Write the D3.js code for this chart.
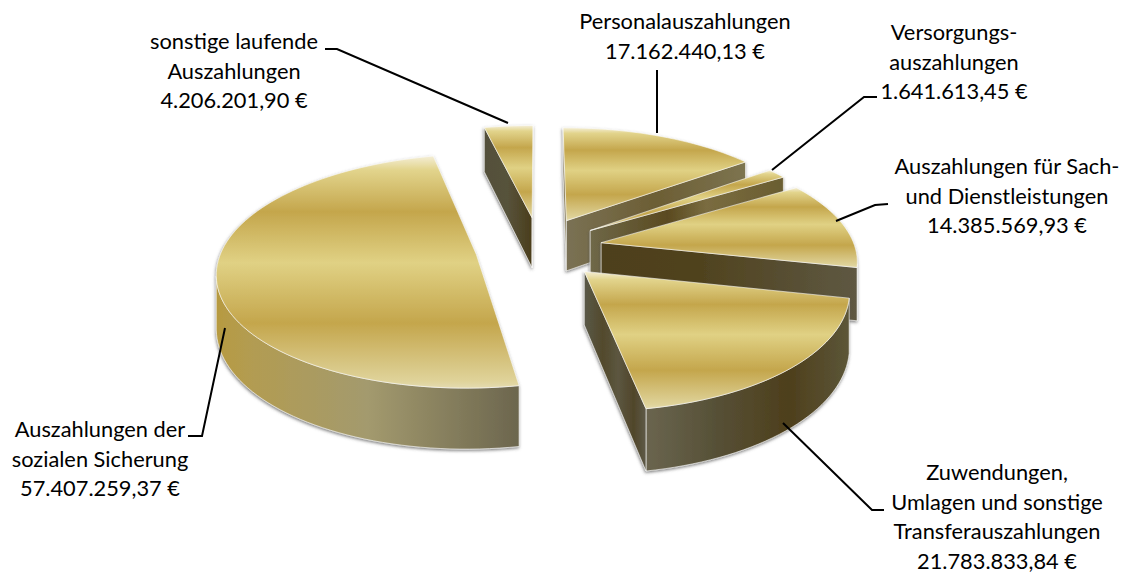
<!DOCTYPE html>
<html>
<head>
<meta charset="utf-8">
<script src="https://cdn.jsdelivr.net/npm/d3@7"></script>
<style>
  html, body { margin: 0; padding: 0; background: #fff; }
  text { font-family: Lato, "Open Sans", sans-serif; font-size: 21.8px; fill: #000; }
</style>
</head>
<body>
<div id="chart"></div>
<script>
// Chart data
const categories = [
  ['Personalauszahlungen'],
  ['Versorgungs-', 'auszahlungen'],
  ['Auszahlungen für Sach-', 'und Dienstleistungen'],
  ['Zuwendungen,', 'Umlagen und sonstige', 'Transferauszahlungen'],
  ['Auszahlungen der', 'sozialen Sicherung'],
  ['sonstige laufende', 'Auszahlungen']
];
const values = [17162440.13, 1641613.45, 14385569.93, 21783833.84, 57407259.37, 4206201.90];

// Label placement: centre x, first line y
const labelPos = [[685, 29], [954, 40], [1007, 174], [997, 480], [100, 437], [234, 49]];
// Leader lines
const leaders = [
  [[657, 70], [657, 133]],
  [[877, 97], [864, 97], [772, 170]],
  [[888, 204], [875, 205], [836, 221]],
  [[884, 510], [872, 510], [783, 423]],
  [[188, 436], [202, 436], [225, 328]],
  [[325, 49], [337, 49], [508, 123]]
];

const width = 1131, height = 575;
const cx = 539, cy = 248;       // disc centre on screen
const rx = 254, ry = 113;       // disc radii before perspective
const persp = 0.14;             // perspective strength
const explode = { x: 0.25, y: 0.28 }; // explosion in disc units
const depth = 52;               // extrusion at disc centre

const de = d3.formatLocale({ decimal: ',', thousands: '.', grouping: [3], currency: ['', ' €'] });
const fmtEuro = de.format('$,.2f');

const svg = d3.select('#chart').append('svg')
  .attr('width', width)
  .attr('height', height);

const defs = svg.append('defs');

function addGradient(id, vertical, stops) {
  const g = defs.append('linearGradient').attr('id', id)
    .attr('x1', 0).attr('y1', 0)
    .attr('x2', vertical ? 0 : 1).attr('y2', vertical ? 1 : 0);
  stops.forEach(s => g.append('stop').attr('offset', s[0]).attr('stop-color', s[1]));
}

// Gold top surface
addGradient('top', true, [
  [0, '#f4eed6'], [0.06, '#e2d48c'], [0.24, '#c4a64c'], [0.46, '#e0d184'],
  [0.72, '#c4a64c'], [0.97, '#dfd39a'], [1, '#e4dbb0']
]);

// Side walls, one set per slice
addGradient('wall-0', false, [[0, '#7a7154'], [0.5, '#6c5e34'], [1, '#7d7450']]);
addGradient('wall-1', false, [[0, '#6f6848'], [0.4, '#5a4a20'], [0.6, '#7a6c40'], [1, '#6a5d30']]);
addGradient('wall-2', false, [[0, '#4e3f1c'], [0.4, '#50431f'], [1, '#5e5842']]);
addGradient('wall-3', false, [[0, '#6a654f'], [0.35, '#565036'], [0.7, '#4e3f1c'], [1, '#5c5638']]);
addGradient('wall-4', false, [[0, '#b79a40'], [0.1, '#b39c50'], [0.5, '#a39a6e'], [1, '#6c664e']]);
addGradient('wall-5', false, [[0, '#53503a'], [0.5, '#57523a'], [1, '#4a3d1c']]);
addGradient('cut-3', false, [[0, '#5a5848'], [0.3, '#524a2c'], [0.55, '#5c5640'], [0.8, '#50462a'], [1, '#5e5a48']]);

const shadow = defs.append('filter').attr('id', 'shadow')
  .attr('x', '-10%').attr('y', '-10%').attr('width', '120%').attr('height', '120%');
shadow.append('feDropShadow')
  .attr('dx', -0.5).attr('dy', 1.5).attr('stdDeviation', 1.5)
  .attr('flood-color', '#555').attr('flood-opacity', 0.75);

// Disc coordinates to screen, d is the drop below the top surface
function project(u, v, d = 0) {
  const s = 1 / (1 - persp * v);
  return [cx + u * rx * s, cy + v * ry * s + d * s];
}

const pie = d3.pie().sort(null).value(d => d);
const arcs = pie(values);
const line = d3.line();

const slices = arcs.map((a, i) => {
  const mid = (a.startAngle + a.endAngle) / 2;
  const ox = Math.sin(mid) * explode.x;
  const oy = -Math.cos(mid) * explode.y;
  const steps = Math.max(4, Math.ceil((a.endAngle - a.startAngle) * 30));
  const rim = d3.range(steps + 1).map(k => {
    const t = a.startAngle + (a.endAngle - a.startAngle) * k / steps;
    return [Math.sin(t) + ox, -Math.cos(t) + oy];
  });
  return { i, apex: [ox, oy], rim };
});

function quad(p, q) {
  return [project(p[0], p[1]), project(q[0], q[1]), project(q[0], q[1], depth), project(p[0], p[1], depth)];
}

const groups = svg.selectAll('g.slice')
  .data([5, 0, 1, 2, 4, 3].map(k => slices[k]))
  .join('g')
  .attr('class', 'slice')
  .attr('filter', 'url(#shadow)');

groups.each(function (sl) {
  const g = d3.select(this);
  const wallFill = `url(#wall-${sl.i})`;
  const apexS = project(sl.apex[0], sl.apex[1]);
  const first = sl.rim[0], last = sl.rim[sl.rim.length - 1];
  const firstS = project(first[0], first[1]);
  const lastS = project(last[0], last[1]);

  // Outer wall: only the part of the rim facing the viewer
  const front = [];
  sl.rim.forEach((p, k) => {
    if (k === 0) return;
    const a = project(sl.rim[k - 1][0], sl.rim[k - 1][1]);
    const b = project(p[0], p[1]);
    if (b[0] < a[0]) {
      if (!front.length) front.push(sl.rim[k - 1]);
      front.push(p);
    }
  });
  if (front.length) {
    const upper = front.map(p => project(p[0], p[1]));
    const lower = front.map(p => project(p[0], p[1], depth)).reverse();
    g.append('path')
      .attr('d', line(upper.concat(lower)) + 'Z')
      .attr('fill', wallFill)
      .attr('stroke', '#fff').attr('stroke-width', 0.6);
  }

  // Cut faces
  if (firstS[0] < apexS[0]) {
    g.append('path').attr('d', line(quad(sl.apex, first)) + 'Z')
      .attr('fill', wallFill)
      .attr('stroke', '#fff').attr('stroke-width', 0.6);
  }
  if (apexS[0] < lastS[0]) {
    g.append('path').attr('d', line(quad(sl.apex, last)) + 'Z')
      .attr('fill', sl.i === 3 ? 'url(#cut-3)' : wallFill)
      .attr('stroke', '#fff').attr('stroke-width', 0.6);
  }

  // Top surface
  const outline = [apexS].concat(sl.rim.map(p => project(p[0], p[1])));
  g.append('path')
    .attr('d', line(outline) + 'Z')
    .attr('fill', 'url(#top)');
  // thin light edge along the top, like a bevel
  g.append('path')
    .attr('d', line(outline) + 'Z')
    .attr('fill', 'none')
    .attr('stroke', '#fff').attr('stroke-opacity', 0.7).attr('stroke-width', 0.8);
});

// Leader lines
svg.selectAll('path.leader')
  .data(leaders)
  .join('path')
  .attr('class', 'leader')
  .attr('d', d => line(d))
  .attr('fill', 'none')
  .attr('stroke', '#000')
  .attr('stroke-width', 2);

// Labels
const lineHeight = 29.6;
svg.selectAll('text.label')
  .data(categories.map((c, i) => ({ lines: c.concat(fmtEuro(values[i])), pos: labelPos[i] })))
  .join('text')
  .attr('class', 'label')
  .attr('text-anchor', 'middle')
  .each(function (d) {
    d3.select(this).selectAll('tspan')
      .data(d.lines)
      .join('tspan')
      .attr('x', d.pos[0])
      .attr('y', (t, k) => d.pos[1] + k * lineHeight)
      .text(t => t);
  });
</script>
</body>
</html>
